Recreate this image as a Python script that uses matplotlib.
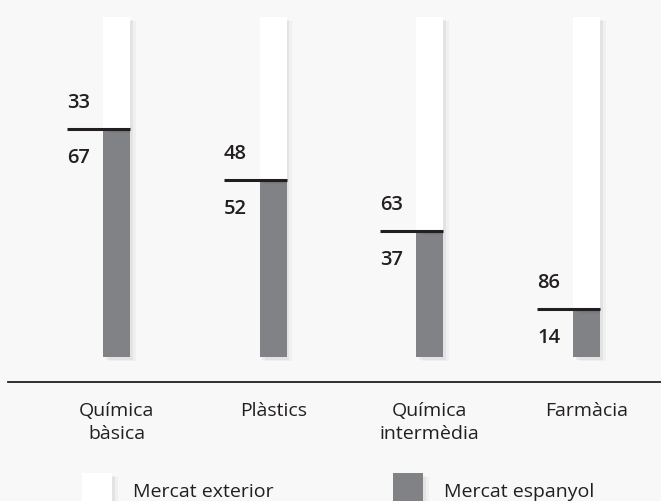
import matplotlib.pyplot as plt
import matplotlib.patheffects as pe
from matplotlib.patches import Rectangle

# data (percent)
categories = ['Química\nbàsica', 'Plàstics', 'Química\nintermèdia', 'Farmàcia']
exterior = [33, 48, 63, 86]
espanyol = [67, 52, 37, 14]
legend_labels = ['Mercat exterior', 'Mercat espanyol']

bg = '#f8f8f8'
grey = '#808285'
dark = '#231f20'

plt.rcParams['font.family'] = ['Open Sans', 'DejaVu Sans']

fig = plt.figure(figsize=(6.61, 5.01), dpi=100, facecolor=bg)
ax = fig.add_axes([0, 0, 1, 1])
ax.set_facecolor(bg)
ax.set_xlim(-0.7436, 3.4755)
ax.set_ylim(-42.35, 105.0)
ax.axis('off')

x = list(range(len(categories)))
w = 0.172
# soft drop shadow on the bars
shadow = [pe.SimplePatchShadow(offset=(4, -3), shadow_rgbFace='#000000', alpha=0.03),
          pe.SimplePatchShadow(offset=(2, -2), shadow_rgbFace='#000000', alpha=0.05),
          pe.Normal()]

b1 = ax.bar(x, espanyol, width=w, color=grey, zorder=2)
b2 = ax.bar(x, exterior, width=w, bottom=espanyol, color='white', zorder=2)
for b in list(b1) + list(b2):
    b.set_path_effects(shadow)

for xi, e, s in zip(x, exterior, espanyol):
    left = xi - w / 2 - 0.23
    ax.plot([left, xi + w / 2], [s, s], color=dark, lw=2.2, solid_capstyle='butt', zorder=3)
    ax.annotate(str(e), (left, s), xytext=(0, 26), textcoords='offset pixels',
                ha='left', va='center', fontsize=14.5, fontweight='semibold', color=dark)
    ax.annotate(str(s), (left, s), xytext=(0, -29), textcoords='offset pixels',
                ha='left', va='center', fontsize=14.5, fontweight='semibold', color=dark)

# baseline
ax.plot([-0.69, 3.4755], [-7.35, -7.35], color=dark, lw=1.3, clip_on=False)

for xi, c in zip(x, categories):
    ax.text(xi, -13.2, c, ha='center', va='top', fontsize=14, color=dark,
            linespacing=1.4)

# legend
for lx, col, lab in zip([82, 393], ['white', grey], legend_labels):
    x0 = (lx - 116.5) / 156.67
    ax.add_patch(Rectangle((x0, -45), 30 / 156.67, 10.9, facecolor=col,
                           edgecolor='none', clip_on=False, path_effects=shadow))
    ax.text(x0 + 51 / 156.67, -41.2, lab, ha='left', va='baseline', fontsize=14, color=dark)

fig.savefig('out.png', dpi=100, facecolor=bg)
